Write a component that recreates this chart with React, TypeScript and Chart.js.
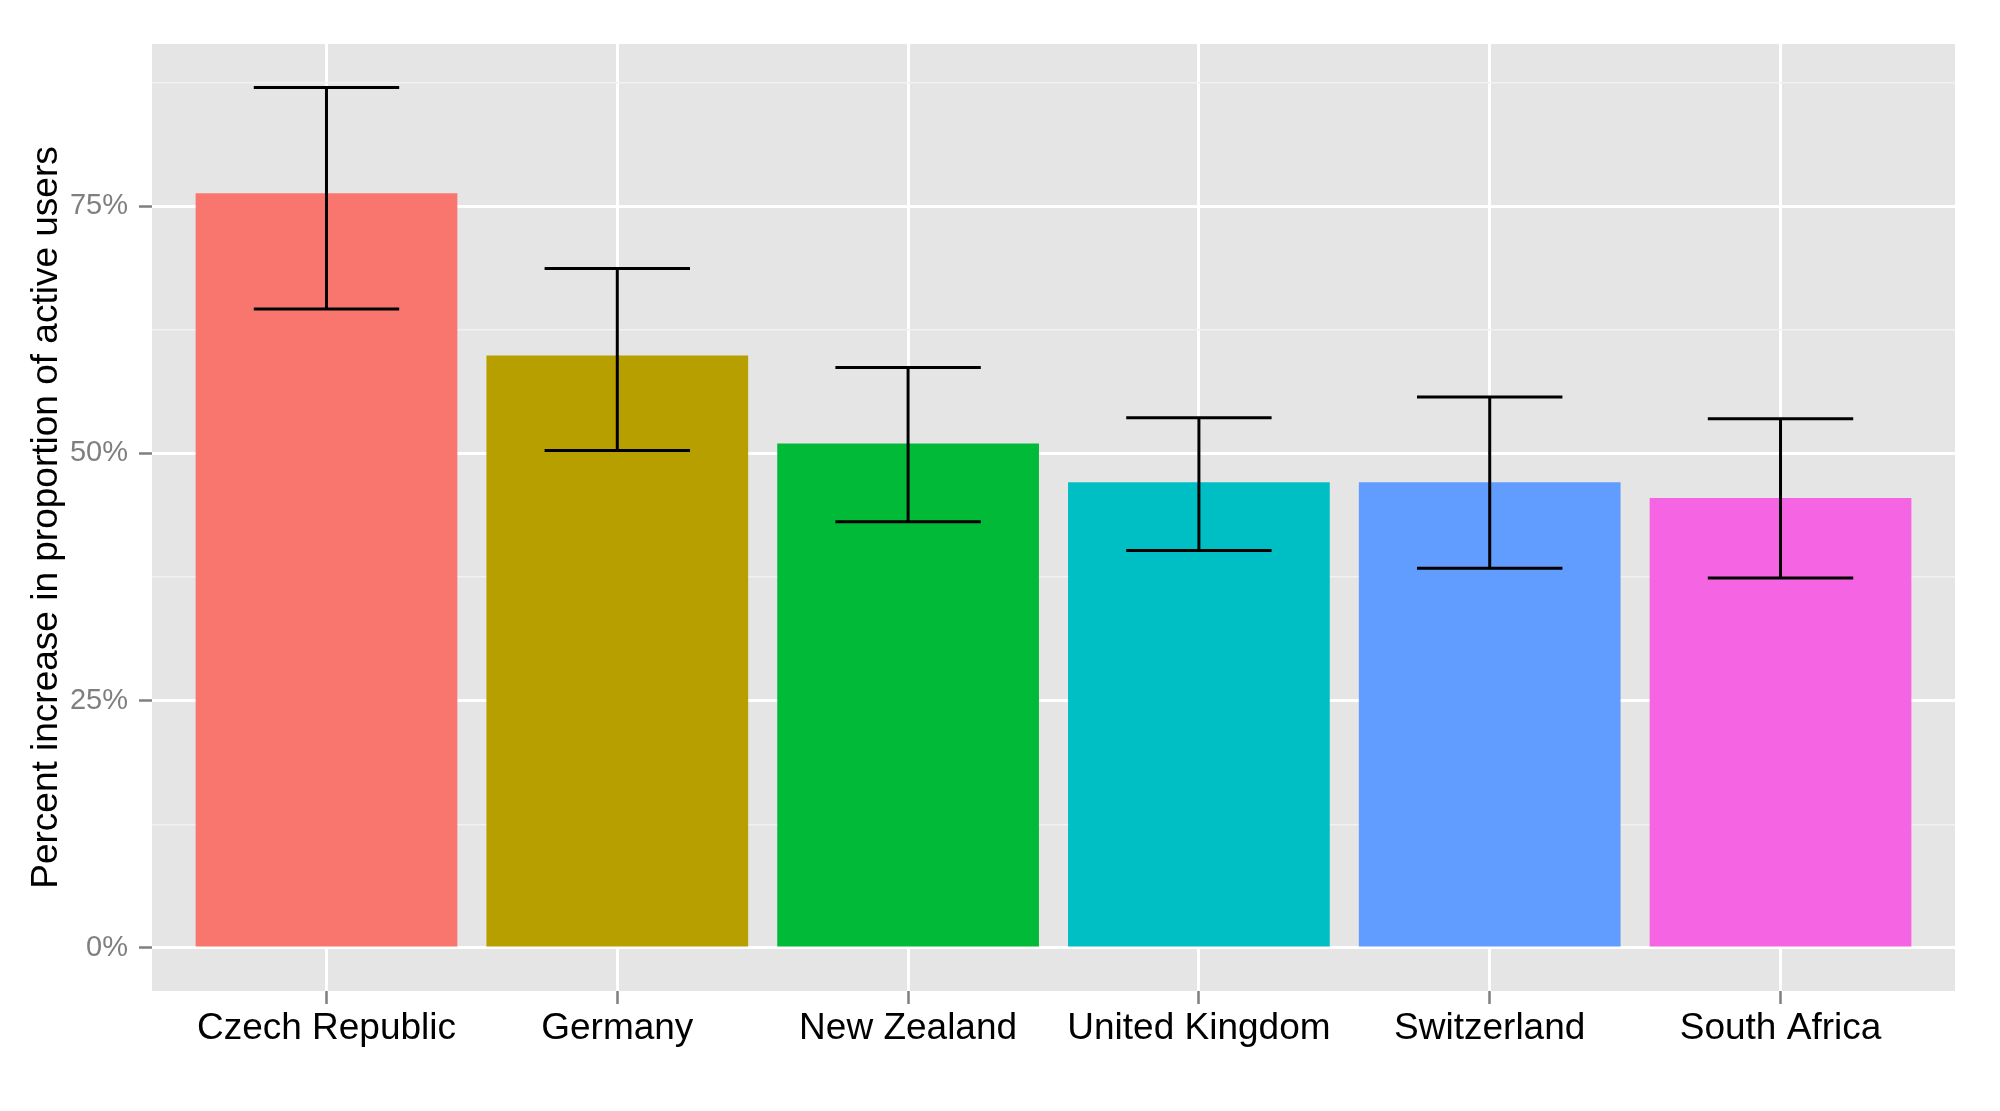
import React, { useEffect, useRef } from "react";
import { Chart, registerables } from "chart.js";

Chart.register(...registerables);

const categories = ["Czech Republic", "Germany", "New Zealand", "United Kingdom", "Switzerland", "South Africa"];
const values = [76.3, 59.9, 51.0, 47.1, 47.1, 45.5];
const upperBounds = [87.0, 68.7, 58.7, 53.6, 55.7, 53.5];
const lowerBounds = [64.6, 50.3, 43.1, 40.2, 38.4, 37.4];
const barColors = ["#F8766D", "#B79F00", "#00BA38", "#00BFC4", "#619CFF", "#F564E3"];
const majorTicks = [0, 25, 50, 75];
const yTickValues = [0, 12.5, 25, 37.5, 50, 62.5, 75, 87.5];
const yTitle = "Percent increase in proportion of active users";

const FONT = "'Liberation Sans', Arial, Helvetica, sans-serif";

const panelBg = {
  id: "panelBg",
  beforeDraw(chart: any) {
    const { ctx, chartArea } = chart;
    ctx.save();
    ctx.fillStyle = "#E5E5E5";
    ctx.fillRect(chartArea.left, chartArea.top, chartArea.right - chartArea.left, chartArea.bottom - chartArea.top);
    ctx.restore();
  },
};

const errorBars = {
  id: "errorBars",
  afterDatasetsDraw(chart: any) {
    const { ctx } = chart;
    const xs = chart.scales.x;
    const ys = chart.scales.y;
    ctx.save();
    ctx.strokeStyle = "#000000";
    ctx.lineWidth = 3;
    ctx.lineCap = "butt";
    categories.forEach((_, i) => {
      const cx = xs.getPixelForValue(i);
      const half = xs.getPixelForValue(i + 0.25) - cx;
      const yu = ys.getPixelForValue(upperBounds[i]);
      const yl = ys.getPixelForValue(lowerBounds[i]);
      ctx.beginPath();
      ctx.moveTo(cx, yu);
      ctx.lineTo(cx, yl);
      ctx.moveTo(cx - half, yu);
      ctx.lineTo(cx + half, yu);
      ctx.moveTo(cx - half, yl);
      ctx.lineTo(cx + half, yl);
      ctx.stroke();
    });
    ctx.restore();
  },
};

export default function App() {
  const canvasRef = useRef<HTMLCanvasElement | null>(null);

  useEffect(() => {
    if (!canvasRef.current) return;
    const isMajor = (v: number) => majorTicks.includes(v);
    const chart = new Chart(canvasRef.current, {
      type: "bar",
      data: {
        datasets: [
          {
            data: categories.map((_, i) => ({ x: i, y: values[i] })),
            backgroundColor: barColors,
            borderWidth: 0,
            categoryPercentage: 1,
            barPercentage: 0.9,
          } as any,
        ],
      },
      options: {
        animation: false,
        responsive: true,
        maintainAspectRatio: false,
        layout: { padding: { top: 44, right: 45, left: 0, bottom: 0 } },
        plugins: { legend: { display: false }, tooltip: { enabled: false } },
        scales: {
          x: {
            type: "linear",
            min: -0.6,
            max: 5.6,
            offset: false,
            afterBuildTicks: (s: any) => {
              s.ticks = categories.map((_, i) => ({ value: i }));
            },
            afterFit: (s: any) => {
              s.height = 120;
            },
            grid: {
              offset: false,
              color: "#FFFFFF",
              lineWidth: 3,
              drawTicks: true,
              tickLength: 13,
              tickColor: "#7F7F7F",
              tickWidth: 2.5,
            },
            border: { display: false },
            ticks: {
              callback: (v: any) => categories[v] ?? "",
              color: "#000000",
              font: { family: FONT, size: 37 },
              padding: 3,
              maxRotation: 0,
              autoSkip: false,
            },
          } as any,
          y: {
            type: "linear",
            min: -4.35,
            max: 91.4,
            afterBuildTicks: (s: any) => {
              s.ticks = yTickValues.map((v) => ({ value: v }));
            },
            afterFit: (s: any) => {
              s.width = 152;
            },
            grid: {
              color: (c: any) => (isMajor(c.tick?.value) ? "#FFFFFF" : "#F2F2F2"),
              lineWidth: (c: any) => (isMajor(c.tick?.value) ? 3 : 1.5),
              drawTicks: true,
              tickLength: 13,
              tickColor: (c: any) => (isMajor(c.tick?.value) ? "#7F7F7F" : "rgba(0,0,0,0)"),
              tickWidth: 2.5,
            },
            border: { display: false },
            ticks: {
              callback: (v: any) => (isMajor(v) ? `${v}%` : ""),
              color: "#7F7F7F",
              font: { family: FONT, size: 29 },
              padding: 11,
              autoSkip: false,
            },
            title: {
              display: true,
              text: yTitle,
              color: "#000000",
              font: { family: FONT, size: 37, lineHeight: 1 },
              padding: { top: 28, bottom: 0 },
            },
          } as any,
        },
      },
      plugins: [panelBg, errorBars],
    });
    return () => chart.destroy();
  }, []);

  return (
    <div style={{ position: "fixed", left: 0, top: 0, width: 2000, height: 1111, background: "#FFFFFF" }}>
      <canvas ref={canvasRef} />
    </div>
  );
}
